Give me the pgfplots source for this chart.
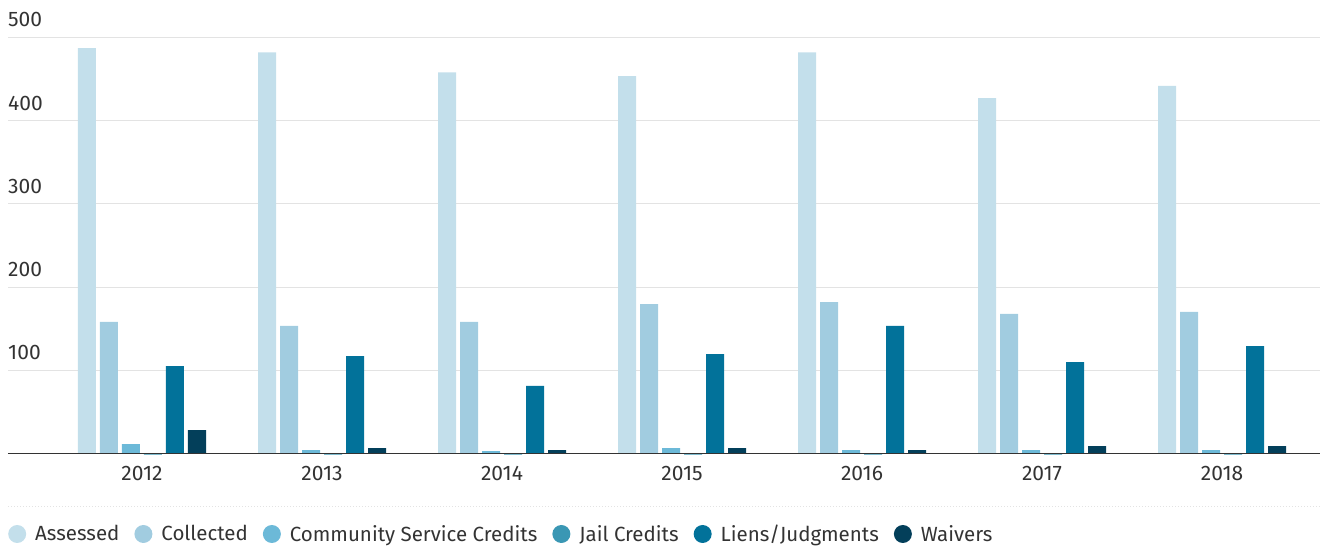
\documentclass[border=0pt]{standalone}
\usepackage{pgfplots}
\pgfplotsset{compat=1.18}
\usepackage{fontspec}
\setmainfont{Fira Sans}
\definecolor{cAss}{HTML}{C3DFEB}
\definecolor{cCol}{HTML}{A1CCE0}
\definecolor{cCS}{HTML}{6CB9D8}
\definecolor{cJail}{HTML}{3A97B4}
\definecolor{cLien}{HTML}{02729A}
\definecolor{cWaiv}{HTML}{033F5A}
\definecolor{txt}{HTML}{333333}
\definecolor{gridc}{HTML}{E3E3E3}
\pgfplotsset{legcirc/.style={legend image code/.code={\fill (9pt,0pt) circle (9pt);}}}

\begin{document}
\begin{tikzpicture}
\useasboundingbox (-8pt,-92.5pt) rectangle (1312pt,453.5pt);
\begin{axis}[
    name=ax,
    scale only axis,
    width=1312pt, height=416.2pt,
    ybar=4pt, bar width=18pt,
    xmin=-0.7444, xmax=6.5444,
    ymin=0, ymax=500,
    clip=false,
    axis line style={draw=none},
    tick style={draw=none},
    major tick length=0pt,
    ymajorgrids,
    grid style={gridc, line width=1pt},
    xtick={0,...,6},
    xticklabels={2012,2013,2014,2015,2016,2017,2018},
    ytick={100,200,300,400,500},
    /pgf/number format/assume math mode=true,
    tick label style={font=\fontsize{21}{24}\selectfont, text=txt},
    yticklabel style={anchor=south west, inner sep=0pt, yshift=10pt},
    xticklabel style={anchor=north, inner sep=0pt, yshift=-12.5pt},
    legend columns=-1,
    legend cell align=left,
    legend style={draw=none, fill=none, inner sep=0pt,
        at={(axis description cs:0,-0.1934)}, anchor=west,
        font=\fontsize{20.5}{24}\selectfont, text=txt,
        /tikz/every odd column/.append style={column sep=7pt},
        /tikz/every even column/.append style={column sep=13pt}},
]
\addplot[draw=none, fill=cAss, legcirc] coordinates {(0,487) (1,482) (2,458) (3,453.5) (4,482) (5,427) (6,441.5)};
\addplot[draw=none, fill=cCol, legcirc] coordinates {(0,158) (1,153.2) (2,158) (3,179.6) (4,182) (5,167.6) (6,170)};
\addplot[draw=none, fill=cCS, legcirc] coordinates {(0,11.4) (1,4) (2,3) (3,6.6) (4,4.2) (5,4.2) (6,4.2)};
\addplot[draw=none, fill=cJail, legcirc] coordinates {(0,-1.5) (1,-1.5) (2,-1.5) (3,-1.5) (4,-1.5) (5,-1.5) (6,-1.5)};
\addplot[draw=none, fill=cLien, legcirc] coordinates {(0,105.1) (1,117.1) (2,81.1) (3,119.5) (4,153.2) (5,109.9) (6,129.1)};
\addplot[draw=none, fill=cWaiv, legcirc] coordinates {(0,28) (1,6.6) (2,4.2) (3,6.6) (4,4.2) (5,9) (6,9)};
\legend{Assessed,Collected,Community Service Credits,Jail Credits,Liens/Judgments,Waivers}
\draw[txt, line width=1.3pt] (axis cs:-0.7444,0) -- (axis cs:6.5444,0);
\end{axis}
\draw[gridc, dotted, line width=1pt] ([yshift=-52.5pt]ax.south west) -- ([yshift=-52.5pt]ax.south east);
\end{tikzpicture}
\end{document}
